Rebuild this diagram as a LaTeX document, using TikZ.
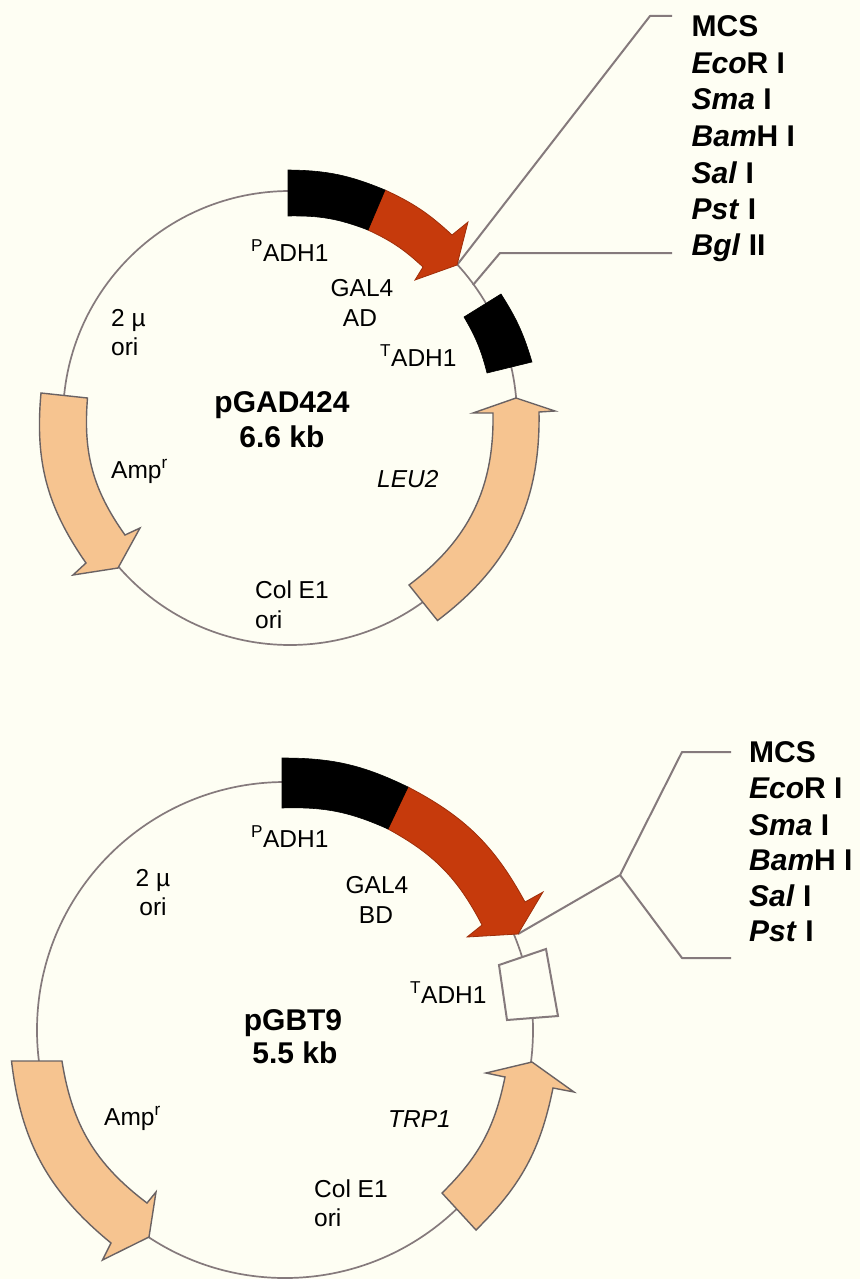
\documentclass[tikz,border=0pt]{standalone}
\usepackage{fontspec}
\setmainfont{Liberation Sans}
\definecolor{paper}{HTML}{FEFEF3}
\definecolor{ringc}{HTML}{857A7C}
\definecolor{peach}{HTML}{F6C490}
\definecolor{redc}{HTML}{C63A0C}
\tikzset{
  ring/.style={draw=ringc,line width=1.7pt},
  link/.style={draw=ringc,line width=2pt,line join=round},
  peachbox/.style={fill=peach,draw=ringc!80!black,line width=1.4pt,line join=miter},
  blackbox/.style={fill=black,draw=black,line width=.6pt},
  redbox/.style={fill=redc,draw=redc!80!black,line width=.8pt},
  whitebox/.style={fill=paper,draw=ringc,line width=2pt},
  lab/.style={anchor=base west,inner sep=0pt,font=\fontsize{24.5}{24.5}\selectfont},
  labc/.style={anchor=base,inner sep=0pt,font=\fontsize{24.5}{24.5}\selectfont},
  ttl/.style={anchor=base,inner sep=0pt,font=\fontsize{30}{30}\selectfont\bfseries},
  mcs/.style={anchor=base west,inner sep=0pt,font=\fontsize{30}{30}\selectfont\bfseries}
}
\begin{document}
\begin{tikzpicture}[x=1pt,y=-1pt]
\useasboundingbox (0,0) rectangle (860,1279);
\fill[paper] (0,0) rectangle (860,1279);

% ---------- pGAD424 ----------
\node[circle,ring,minimum size=454pt,inner sep=0pt] (ringA) at (290,418) {};
\coordinate (tipA) at (457,265);
\coordinate (branchA) at (473,285);
\coordinate (kneeA1) at (650,16);
\coordinate (endA1) at (672,16);
\coordinate (kneeA2) at (500,253);
\coordinate (endA2) at (672,253);
\draw[link] (tipA) -- (kneeA1) -- (endA1);
\draw[link] (branchA) -- (kneeA2) -- (endA2);
% Amp
\path[peachbox] (41,393) to[bend right=20] (86,563) -- (73,575) -- (118,568) -- (140,528) -- (125,535) to[bend left=20] (87.5,398) -- cycle;
% LEU2
\path[peachbox] (437.5,620.5) to[bend right=27] (539,412) -- (555,411) -- (516,398) -- (473,413) -- (493,413) to[bend left=27] (409,585) -- cycle;
% GAL4 AD
\path[redbox] (385,190) to[bend left=9] (452,235) -- (468,222) -- (457,265) -- (415,280) -- (423,267) to[bend right=9] (368,230) -- cycle;
% PADH1
\path[blackbox] (288,170) to[bend left=11] (385,190) -- (368,230) to[bend right=11] (288,216) -- cycle;
% TADH1
\path[blackbox] (501,294) to[bend left=8] (532,362) -- (487,373) to[bend right=8] (464,317) -- cycle;

\node[lab] (padhA) at (251,261) {\textsuperscript{P}ADH1};
\node[labc] (galA) at (362,296) {GAL4};
\node[labc] (adA) at (360,326) {AD};
\node[lab] (tadhA) at (380,366) {\textsuperscript{T}ADH1};
\node[lab] (twoA) at (111,326) {2 µ};
\node[lab] (oriA) at (111,355) {ori};
\node[ttl] (nameA) at (282,412) {pGAD424};
\node[ttl] (sizeA) at (282,447) {6.6 kb};
\node[lab] (ampA) at (111,478) {Amp\textsuperscript{r}};
\node[lab] (leuA) at (377,487) {\itshape LEU2};
\node[lab] (colA) at (255,598) {Col E1};
\node[lab] (ori2A) at (255,628) {ori};

\node[mcs] (m1) at (691.5,37) {MCS};
\node[mcs] (m2) at (691.5,73.5) {\textit{Eco}R I};
\node[mcs] (m3) at (691.5,110) {\textit{Sma} I};
\node[mcs] (m4) at (691.5,146.5) {\textit{Bam}H I};
\node[mcs] (m5) at (691.5,183) {\textit{Sal} I};
\node[mcs] (m6) at (691.5,219) {\textit{Pst} I};
\node[mcs] (m7) at (691.5,255.5) {\textit{Bgl} II};

% ---------- pGBT9 ----------
\node[circle,ring,minimum size=496pt,inner sep=0pt] (ringB) at (285,1030) {};
\coordinate (tipB) at (518,934);
\coordinate (forkB) at (620,875);
\coordinate (kneeB1) at (682,752);
\coordinate (endB1) at (731,752);
\coordinate (kneeB2) at (682,958);
\coordinate (endB2) at (731,958);
\draw[link] (tipB) -- (forkB) -- (kneeB1) -- (endB1);
\draw[link] (forkB) -- (kneeB2) -- (endB2);
% Amp
\path[peachbox] (11.5,1061) to[bend right=22] (111,1243) -- (102.5,1260) -- (149,1237) -- (156,1192) -- (147,1203) to[bend left=22] (62,1061) -- cycle;
% TRP1
\path[peachbox] (476,1230) to[bend right=17] (553,1088) -- (574,1092) -- (532,1062) -- (486,1073) -- (505,1077) to[bend left=17] (442,1193) -- cycle;
% GAL4 BD
\path[redbox] (408,787) to[bend left=17] (525,902) -- (543,892) -- (518,934) -- (467,937) -- (482,925) to[bend right=17] (388,829) -- cycle;
% PADH1
\path[blackbox] (282,758) to[bend left=13] (408,787) -- (388,829) to[bend right=13] (282,808) -- cycle;
% TADH1
\path[whitebox] (499,965) -- (546,949) -- (558,1016) -- (507,1020) -- cycle;

\node[lab] (padhB) at (251,847) {\textsuperscript{P}ADH1};
\node[labc] (galB) at (377,893) {GAL4};
\node[labc] (bdB) at (376,923) {BD};
\node[lab] (tadhB) at (410,1003) {\textsuperscript{T}ADH1};
\node[labc] (twoB) at (153,886) {2 µ};
\node[labc] (oriB) at (153,915) {ori};
\node[ttl] (nameB) at (293,1030) {pGBT9};
\node[ttl] (sizeB) at (295,1063) {5.5 kb};
\node[lab] (ampB) at (104,1125) {Amp\textsuperscript{r}};
\node[lab] (trpB) at (388,1127) {\itshape TRP1};
\node[lab] (colB) at (314,1197) {Col E1};
\node[lab] (ori2B) at (314,1226) {ori};

\node[mcs] (n1) at (749,762) {MCS};
\node[mcs] (n2) at (749,798) {\textit{Eco}R I};
\node[mcs] (n3) at (749,835) {\textit{Sma} I};
\node[mcs] (n4) at (749,870.5) {\textit{Bam}H I};
\node[mcs] (n5) at (749,906) {\textit{Sal} I};
\node[mcs] (n6) at (749,941.5) {\textit{Pst} I};
\end{tikzpicture}
\end{document}
